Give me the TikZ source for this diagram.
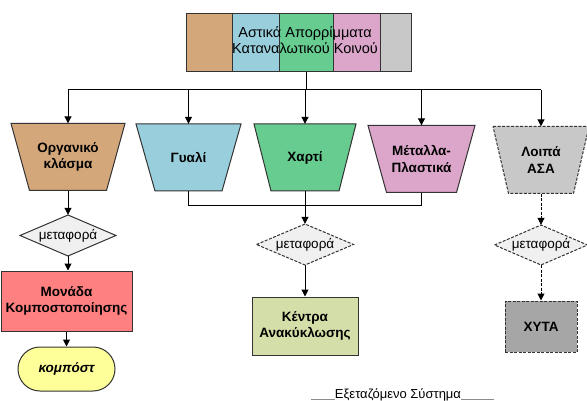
\documentclass[tikz,border=0pt]{standalone}
\usepackage{fontspec}
\setmainfont{Liberation Sans}
\usetikzlibrary{arrows.meta,calc}
\definecolor{cbrown}{RGB}{211,167,122}
\definecolor{cblue}{RGB}{153,207,221}
\definecolor{cgreen}{RGB}{102,204,144}
\definecolor{cpink}{RGB}{220,166,202}
\definecolor{cgray}{RGB}{200,200,200}
\definecolor{cdia}{RGB}{240,240,240}
\definecolor{csalmon}{RGB}{255,128,128}
\definecolor{cyellow}{RGB}{255,255,153}
\definecolor{colive}{RGB}{212,222,168}
\definecolor{cdark}{RGB}{166,166,166}
\definecolor{cline}{RGB}{51,51,51}
\tikzset{
  seg/.style={draw=cline,line width=1pt,minimum height=58pt,inner sep=0pt},
  lbl/.style={font=\fontsize{13.5}{16.5}\selectfont\bfseries,align=center,inner sep=0pt,text=black},
  plain/.style={font=\fontsize{13.5}{16}\selectfont,align=center,inner sep=0pt},
  wire/.style={line width=1pt,black},
  arr/.style={wire,-{Triangle[length=7pt,width=7pt]}},
  shp/.style={draw=cline,line width=1pt},
  dsh/.style={dash pattern=on 3pt off 1.5pt},
}
% name, cx, cy, top half width, bottom half width, path style, text
\newcommand\trapnode[7]{%
  \path[#6] (#2-#4,#3-33.5) -- (#2+#4,#3-33.5) -- (#2+#5,#3+33.5) -- (#2-#5,#3+33.5) -- cycle;
  \node[lbl,minimum height=67pt] (#1) at (#2,#3) {#7};}
% name, cx, cy, half width, half height, path style, text
\newcommand\diamnode[7]{%
  \path[#6] (#2-#4,#3) -- (#2,#3-#5) -- (#2+#4,#3) -- (#2,#3+#5) -- cycle;
  \node[plain,minimum height=2*#5 pt] (#1) at (#2,#3) {#7};}
\begin{document}
\begin{tikzpicture}[x=1pt,y=-1pt]
\useasboundingbox (0,0) rectangle (587,401);
% top bar
\node[seg,fill=cbrown,minimum width=46pt] (s1) at (209,43) {};
\node[seg,fill=cblue,minimum width=47pt] (s2) at (255.5,43) {};
\node[seg,fill=cgreen,minimum width=54pt] (s3) at (306,43) {};
\node[seg,fill=cpink,minimum width=47pt] (s4) at (356.5,43) {};
\node[seg,fill=cgray,minimum width=31pt] (s5) at (395.5,43) {};
\node[plain,font=\fontsize{14.5}{16.5}\selectfont] (top) at (305,40) {Αστικά Απορρίμματα\\Καταναλωτικού Κοινού};
% trapezoids
\trapnode{org}{68}{157}{57}{38.5}{shp,fill=cbrown}{Οργανικό\\κλάσμα}
\trapnode{gya}{188.5}{157.5}{52.5}{33.5}{shp,fill=cblue}{Γυαλί}
\trapnode{cha}{305}{157.5}{51}{34}{shp,fill=cgreen}{Χαρτί}
\trapnode{met}{421.5}{159}{53.5}{35}{shp,fill=cpink}{Μέταλλα-\\Πλαστικά}
\trapnode{loi}{541}{160}{48}{32.5}{shp,dsh,fill=cgray}{Λοιπά\\ΑΣΑ}
% bus
\coordinate (bus) at (306,90);
\draw[wire] (s3.south -| bus) -- (bus);
\draw[wire] (org.north |- bus) -- (loi.north |- bus);
\draw[arr] (org.north |- bus) -- (org.north);
\draw[arr] (gya.north |- bus) -- (gya.north);
\draw[arr] (cha.north |- bus) -- (cha.north);
\draw[arr] (met.north |- bus) -- (met.north);
\draw[arr] (loi.north |- bus) -- (loi.north);
% organic branch
\diamnode{d1}{68}{235.5}{48}{20.5}{shp,fill=cdia}{μεταφορά}
\node[shp,fill=csalmon,lbl,minimum width=131pt,minimum height=60pt] (comp) at (66.5,301) {Μονάδα\\Κομποστοποίησης};
\node[shp,fill=cyellow,lbl,font=\fontsize{13.5}{16}\selectfont\bfseries\itshape,minimum width=97pt,minimum height=44pt,rounded corners=22pt] (kom) at (66.5,369) {κομπόστ};
\draw[arr] (org.south) -- (d1.north);
\draw[arr] (d1.south) -- (d1.south |- comp.north);
\draw[arr] (comp.south) -- (comp.south |- kom.north);
% recycling branch
\coordinate (mbus) at (305,206);
\draw[wire] (gya.south) -- (gya.south |- mbus) -- (met.south |- mbus) -- (met.south);
\diamnode{d2}{305}{244.5}{48.5}{20.5}{shp,dsh,fill=cdia}{μεταφορά}
\node[shp,fill=colive,lbl,minimum width=106pt,minimum height=58pt] (rec) at (305,326) {Κέντρα\\Ανακύκλωσης};
\draw[arr] (cha.south) -- (d2.north);
\draw[arr] (d2.south) -- (rec.north);
% landfill branch
\diamnode{d3}{541}{245}{46.5}{20}{shp,dsh,fill=cdia}{μεταφορά}
\node[shp,dsh,fill=cdark,lbl,minimum width=72pt,minimum height=51pt] (xyta) at (541,326.5) {ΧΥΤΑ};
\draw[arr,dsh] (loi.south) -- (d3.north);
\draw[arr,dsh] (d3.south) -- (xyta.north);
% system label
\node[plain,font=\fontsize{13}{15}\selectfont,anchor=base] (sys) at (398,398) {Εξεταζόμενο Σύστημα};
\draw[line width=0.8pt,black!45] (311,399.5) -- (sys.west |- 0,399.5);
\draw[line width=0.8pt,black!45] (sys.east |- 0,399.5) -- (494,399.5);
\end{tikzpicture}
\end{document}
